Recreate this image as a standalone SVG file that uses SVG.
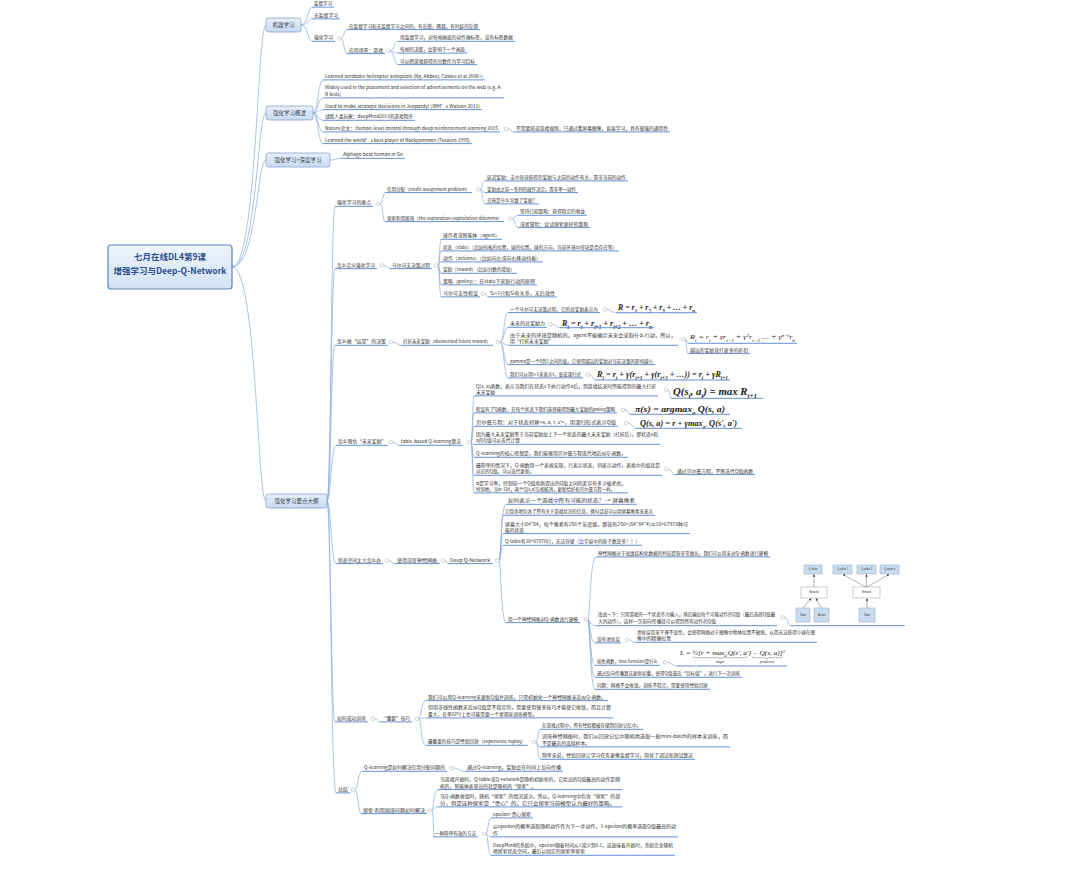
<svg xmlns="http://www.w3.org/2000/svg" width="1080" height="869" viewBox="0 0 1080 869">
<defs>
<linearGradient id="g1" x1="0" y1="0" x2="0" y2="1"><stop offset="0" stop-color="#e8f0f9"/><stop offset="1" stop-color="#c8daef"/></linearGradient>
<linearGradient id="g0" x1="0" y1="0" x2="0" y2="1"><stop offset="0" stop-color="#eef4fb"/><stop offset="1" stop-color="#d3e2f3"/></linearGradient>
<marker id="ar" viewBox="0 0 4 4" refX="3.6" refY="2" markerUnits="userSpaceOnUse" markerWidth="2.4" markerHeight="2.4" orient="auto"><path d="M0 0L4 2L0 4z" fill="#333"/></marker>
</defs>
<style>
.t{font-family:"Noto Sans CJK SC","Noto Sans",sans-serif;font-size:4.8px;fill:#2e2e2e}
.b{font-family:"Noto Sans CJK SC","Noto Sans",sans-serif;font-size:5.5px;fill:#2f3b4c;text-anchor:middle}
.r{font-family:"Noto Sans CJK SC","Noto Sans",sans-serif;font-size:8.5px;font-weight:bold;fill:#2a4f8c;text-anchor:middle}
.u{stroke:#6391d6;stroke-width:1;fill:none}
.c{stroke:#8fb0dc;stroke-width:0.75;fill:none}
.k{fill:#fff;stroke:#a8a8a8;stroke-width:0.5}
.L1{fill:url(#g1);stroke:#86a6d0;stroke-width:0.8}
.f{font-family:"Liberation Serif","DejaVu Serif",serif;font-style:italic;fill:#1a1a1a}
.fb{font-weight:bold}
.s{baseline-shift:sub;font-size:65%}
.p{baseline-shift:super;font-size:65%}
.ib{fill:#c9dcee;stroke:#8ea7c2;stroke-width:0.5}
.nb{fill:#fff;stroke:#9a9a9a;stroke-width:0.5}
.it{font-family:"Liberation Sans",Arial,sans-serif;font-size:2.6px;fill:#333;text-anchor:middle}
.a{stroke:#444;stroke-width:0.4;fill:none;marker-end:url(#ar)}
</style>
<rect width="1080" height="869" fill="#fff"/>

<g id="connectors">
<path class="c" d="M232 267C257 267 257 25 266 25M232 267C257 267 257 113 266 113M232 267C257 267 257 160 266 160M232 267C257 267 257 501 266 501"/>
<path class="c" d="M301 25C308 25 308 7.1 312 7.1M301 25C308 25 308 18.9 312 18.9M301 25C308 25 308 41.3 312 41.3"/>
<path class="c" d="M341 38.5C344 38.5 344 29.6 347 29.6M341 38.5C344 38.5 344 53.6 347 53.6"/>
<path class="c" d="M390 50.8C394 50.8 394 41.3 398 41.3M390 50.8C394 50.8 394 53.1 398 53.1M390 50.8C394 50.8 394 64.6 398 64.6"/>
<path class="c" d="M313 113C318 113 318 79.9 323 79.9M313 113C318 113 318 97.9 323 97.9M313 113C318 113 318 109.6 323 109.6M313 113C318 113 318 120.3 323 120.3M313 113C318 113 318 131.9 323 131.9M313 113C318 113 318 143.6 323 143.6"/>
<path class="c" d="M508 129C511 129 511 131.9 514 131.9"/>
<path class="c" d="M330 160C336 160 336 158.3 341 158.3"/>
<path class="c" d="M327 501C331 501 331 206.3 335 206.3M327 501C331 501 331 268.6 335 268.6M327 501C331 501 331 345.3 335 345.3M327 501C331 501 331 445.3 336 445.3M327 501C331 501 331 563.6 336 563.6M327 501C331 501 331 721.9 335 721.9M327 501C331 501 331 792.9 336 792.9"/>
<path class="c" d="M380 203.7C383 203.7 383 192.6 385 192.6M380 203.7C383 203.7 383 221.6 385 221.6"/>
<path class="c" d="M480 189.5C482.5 189.5 482.5 180.9 485 180.9M480 189.5C482.5 189.5 482.5 192.6 485 192.6M480 189.5C482.5 189.5 482.5 203.9 485 203.9"/>
<path class="c" d="M512 218.5C515 218.5 515 215.3 518 215.3M512 218.5C515 218.5 515 227.6 518 227.6"/>
<path class="c" d="M384 265.5C387 265.5 387 268.6 390 268.6"/>
<path class="c" d="M438 265.5C439.5 265.5 439.5 239.3 441 239.3M438 265.5C439.5 265.5 439.5 250.9 441 250.9M438 265.5C439.5 265.5 439.5 261.9 441 261.9M438 265.5C439.5 265.5 439.5 273.3 441 273.3M438 265.5C439.5 265.5 439.5 284.9 441 284.9M438 265.5C439.5 265.5 439.5 296.9 441 296.9"/>
<path class="c" d="M485 293.8C486.5 293.8 486.5 296.9 488 296.9"/>
<path class="c" d="M393 342.2C397 342.2 397 345.3 401 345.3"/>
<path class="c" d="M500 342.2C504 342.2 504 312.6 508 312.6M500 342.2C504 342.2 504 327.3 508 327.3M500 342.2C504 342.2 504 345.3 508 345.3M500 342.2C504 342.2 504 364.6 508 364.6M500 342.2C504 342.2 504 377.9 508 377.9"/>
<path class="c" d="M607 309.5C611 309.5 611 312.7 616 312.7M552 324.2C556 324.2 556 327.7 560 327.7M685 339C686.5 339 686.5 343.3 688 343.3M685 339C686.5 339 686.5 353.6 688 353.6M590 374.8C592.5 374.8 592.5 380 595 380"/>
<path class="c" d="M393 442.2C396 442.2 396 445.3 399 445.3"/>
<path class="c" d="M471 442.2C472.5 442.2 472.5 395.9 474 395.9M471 442.2C472.5 442.2 472.5 412.9 474 412.9M471 442.2C472.5 442.2 472.5 426.3 474 426.3M471 442.2C472.5 442.2 472.5 444.3 474 444.3M471 442.2C472.5 442.2 472.5 457.3 474 457.3M471 442.2C472.5 442.2 472.5 475.3 474 475.3M471 442.2C472.5 442.2 472.5 492.9 474 492.9"/>
<path class="c" d="M668 389.5C669.5 389.5 669.5 398.3 671 398.3M625 409.8C627.5 409.8 627.5 414.3 630 414.3M628 423.2C632 423.2 632 428.3 636 428.3M668 469C671.5 469 671.5 474.6 675 474.6"/>
<path class="c" d="M389 560.5C392 560.5 392 563.6 395 563.6M445 560.5C446.5 560.5 446.5 563.6 448 563.6"/>
<path class="c" d="M499 560.5C501 560.5 501 504.3 506 504.3M499 560.5C501 560.5 501 515.3 503 515.3M499 560.5C501 560.5 501 533.6 503 533.6M499 560.5C501 560.5 501 545.3 503 545.3M499 560.5C501 560.5 501 622.6 506 622.6"/>
<path class="c" d="M588 619.5C590 619.5 590 556.9 596 556.9M588 619.5C590 619.5 590 625.7 596 625.7M588 619.5C590 619.5 590 642.9 595 642.9M588 619.5C590 619.5 590 665.3 595 665.3M588 619.5C590 619.5 590 677.3 595 677.3M588 619.5C590 619.5 590 689.3 595 689.3"/>
<path class="c" d="M785 617.5C788 617.5 788 625.7 791 625.7M629 639.8C632 639.8 632 642.3 635 642.3M667 662.2C672 662.2 672 666 677 666"/>
<path class="c" d="M375 718.8C377.5 718.8 377.5 721.9 380 721.9"/>
<path class="c" d="M419 718.8C421 718.8 421 700.6 426 700.6M419 718.8C421 718.8 421 717.9 426 717.9M419 718.8C421 718.8 421 745.3 426 745.3"/>
<path class="c" d="M536 742.2C538 742.2 538 729.3 540 729.3M536 742.2C538 742.2 538 746.9 540 746.9M536 742.2C538 742.2 538 759.3 540 759.3"/>
<path class="c" d="M355 789.8C358 789.8 358 771.3 362 771.3M355 789.8C358 789.8 358 813.6 361 813.6M454 768.2C459 768.2 459 771.3 465 771.3"/>
<path class="c" d="M432 810.5C433.5 810.5 433.5 789.6 438 789.6M432 810.5C433.5 810.5 433.5 806.9 438 806.9M432 810.5C433.5 810.5 433.5 836.9 434 836.9"/>
<path class="c" d="M486 833.8C488 833.8 488 817.9 491 817.9M486 833.8C488 833.8 488 836.9 491 836.9M486 833.8C488 833.8 488 855.3 491 855.3"/>
</g>

<g id="root">
<rect x="108" y="245" width="124" height="44" rx="3" fill="url(#g0)" stroke="#5a84c0" stroke-width="1.2"/>
<text class="r" x="170" y="259.5">七月在线DL4第9课</text>
<text class="r" x="170" y="273.5">增强学习与Deep-Q-Network</text>
</g>

<g id="n-m1"><rect class="L1" x="266" y="18" width="35" height="14" rx="2.5"/><text class="b" x="283.5" y="27">机器学习</text></g>
<g id="n-b"><rect class="L1" x="266" y="106" width="47" height="14" rx="2.5"/><text class="b" x="289.5" y="115">强化学习概述</text></g>
<g id="n-c"><rect class="L1" x="266" y="153" width="64" height="14" rx="2.5"/><text class="b" x="298" y="162">强化学习+深度学习</text></g>
<g id="n-d"><rect class="L1" x="266" y="494" width="61" height="14" rx="2.5"/><text class="b" x="296.5" y="503">强化学习要点大纲</text></g>

<g id="n-a1"><text class="t" x="314" y="5.2" textLength="18" lengthAdjust="spacingAndGlyphs">监督学习</text><path class="u" d="M312 7.1H334"/></g>
<g id="n-a2"><text class="t" x="314" y="17" textLength="24" lengthAdjust="spacingAndGlyphs">无监督学习</text><path class="u" d="M312 18.9H340"/></g>
<g id="n-a3"><text class="t" x="314" y="39.4" textLength="19" lengthAdjust="spacingAndGlyphs">强化学习</text><path class="u" d="M312 41.3H335"/><circle class="k" cx="339" cy="38.5" r="1.8"/></g>
<g id="n-a31"><text class="t" x="349" y="27.7" textLength="129" lengthAdjust="spacingAndGlyphs">在监督学习和无监督学习之间的，有反馈，稀疏，有时延的反馈</text><path class="u" d="M347 29.6H480"/></g>
<g id="n-a32"><text class="t" x="349" y="51.7" textLength="34" lengthAdjust="spacingAndGlyphs">应用场景：游戏</text><path class="u" d="M347 53.6H385"/><circle class="k" cx="388" cy="50.8" r="1.8"/></g>
<g id="n-a321"><text class="t" x="400" y="39.4" textLength="113" lengthAdjust="spacingAndGlyphs">用监督学习，对每帧画面的动作做标签，没有标签数据</text><path class="u" d="M398 41.3H515"/></g>
<g id="n-a322"><text class="t" x="400" y="51.2" textLength="65" lengthAdjust="spacingAndGlyphs">每帧的决策，会影响下一个画面</text><path class="u" d="M398 53.1H467"/></g>
<g id="n-a323"><text class="t" x="400" y="62.7" textLength="75" lengthAdjust="spacingAndGlyphs">可以把游戏获得的分数作为学习目标</text><path class="u" d="M398 64.6H477"/></g>

<g id="n-b1"><text class="t" x="325" y="78" textLength="158" lengthAdjust="spacingAndGlyphs">Learned acrobatic helicopter autopilots (Ng, Abbeel, Coates et al 2006+)</text><path class="u" d="M323 79.9H485"/></g>
<g id="n-b2"><text class="t" x="325" y="88.7" textLength="177" lengthAdjust="spacingAndGlyphs">Widely used in the placement and selection of advertisements on the web (e.g. A-</text><text class="t" x="325" y="96" textLength="16" lengthAdjust="spacingAndGlyphs">B tests)</text><path class="u" d="M323 97.9H504"/></g>
<g id="n-b3"><text class="t" x="325" y="107.7" textLength="155" lengthAdjust="spacingAndGlyphs">Used to make strategic decisions in Jeopardy! (IBM’s Watson 2011)</text><path class="u" d="M323 109.6H482"/></g>
<g id="n-b4"><text class="t" x="325" y="118.4" textLength="88" lengthAdjust="spacingAndGlyphs">战胜人类玩家：deepMind2013的游戏程序</text><path class="u" d="M323 120.3H415"/></g>
<g id="n-b5"><text class="t" x="325" y="130" textLength="173" lengthAdjust="spacingAndGlyphs">Nature论文：Human-level control through deep reinforcement learning 2015</text><path class="u" d="M323 131.9H500"/><circle class="k" cx="506" cy="129" r="1.8"/></g>
<g id="n-b51"><text class="t" x="516" y="130" textLength="152" lengthAdjust="spacingAndGlyphs">不需要知道游戏规则，只通过看屏幕图像，直接学习，具有很强的通用性</text><path class="u" d="M514 131.9H670"/></g>
<g id="n-b6"><text class="t" x="325" y="141.7" textLength="145" lengthAdjust="spacingAndGlyphs">Learned the world’s best player of Backgammon (Tesauro 1995)</text><path class="u" d="M323 143.6H472"/></g>

<g id="n-c1"><text class="t" x="343" y="156.4" textLength="60" lengthAdjust="spacingAndGlyphs">Alphago beat human in Go</text><path class="u" d="M341 158.3H405"/></g>

<g id="n-d1"><text class="t" x="337" y="204.4" textLength="34" lengthAdjust="spacingAndGlyphs">强化学习的难点</text><path class="u" d="M335 206.3H373"/><circle class="k" cx="378" cy="203.7" r="1.8"/></g>
<g id="n-d11"><text class="t" x="387" y="190.7" textLength="83" lengthAdjust="spacingAndGlyphs">信用分配（credit assignment problem）</text><path class="u" d="M385 192.6H472"/><circle class="k" cx="478" cy="189.5" r="1.8"/></g>
<g id="n-d111"><text class="t" x="487" y="179" textLength="139" lengthAdjust="spacingAndGlyphs">延迟奖励：击中砖块获得的奖励与之前的动作有关，而非当前的动作</text><path class="u" d="M485 180.9H628"/></g>
<g id="n-d112"><text class="t" x="487" y="190.7" textLength="89" lengthAdjust="spacingAndGlyphs">奖励由之前一系列的操作决定，而非单一动作</text><path class="u" d="M485 192.6H578"/></g>
<g id="n-d113"><text class="t" x="487" y="202" textLength="50" lengthAdjust="spacingAndGlyphs">究竟是什么导致了奖励？</text><path class="u" d="M485 203.9H539"/></g>
<g id="n-d12"><text class="t" x="387" y="219.7" textLength="115" lengthAdjust="spacingAndGlyphs">探索利用困境（the exploration-exploitation dilemma）</text><path class="u" d="M385 221.6H504"/><circle class="k" cx="510" cy="218.5" r="1.8"/></g>
<g id="n-d121"><text class="t" x="520" y="213.4" textLength="65" lengthAdjust="spacingAndGlyphs">坚持已知策略：获得稳定的收益</text><path class="u" d="M518 215.3H587"/></g>
<g id="n-d122"><text class="t" x="520" y="225.7" textLength="68" lengthAdjust="spacingAndGlyphs">或者冒险：尝试探索更好的策略</text><path class="u" d="M518 227.6H590"/></g>

<g id="n-d2"><text class="t" x="337" y="266.7" textLength="38" lengthAdjust="spacingAndGlyphs">怎么定义强化学习</text><path class="u" d="M335 268.6H377"/><circle class="k" cx="382" cy="265.5" r="1.8"/></g>
<g id="n-d21"><text class="t" x="392" y="266.7" textLength="38" lengthAdjust="spacingAndGlyphs">马尔可夫决策过程</text><path class="u" d="M390 268.6H432"/><circle class="k" cx="436" cy="265.5" r="1.8"/></g>
<g id="n-d211"><text class="t" x="443" y="237.4" textLength="57" lengthAdjust="spacingAndGlyphs">操作者或智能体（agent）</text><path class="u" d="M441 239.3H502"/></g>
<g id="n-d212"><text class="t" x="443" y="249" textLength="174" lengthAdjust="spacingAndGlyphs">状态（state）（比如挡板的位置，球的位置，球的方向，当前环境中砖块是否存在等）</text><path class="u" d="M441 250.9H619"/></g>
<g id="n-d213"><text class="t" x="443" y="260" textLength="98" lengthAdjust="spacingAndGlyphs">动作（actions）（比如向左或向右移动挡板）</text><path class="u" d="M441 261.9H543"/></g>
<g id="n-d214"><text class="t" x="443" y="271.4" textLength="72" lengthAdjust="spacingAndGlyphs">奖励（reward）（比如分数的增加）</text><path class="u" d="M441 273.3H517"/></g>
<g id="n-d215"><text class="t" x="443" y="283" textLength="92" lengthAdjust="spacingAndGlyphs">策略（policy）：在state下采取行动的原则</text><path class="u" d="M441 284.9H537"/></g>
<g id="n-d216"><text class="t" x="443" y="295" textLength="35" lengthAdjust="spacingAndGlyphs">马尔可夫性假设</text><path class="u" d="M441 296.9H480"/><circle class="k" cx="483" cy="293.8" r="1.8"/></g>
<g id="n-d2161"><text class="t" x="490" y="295" textLength="65" lengthAdjust="spacingAndGlyphs">Si+1只和Si有关系，无后效性</text><path class="u" d="M488 296.9H557"/></g>

<g id="n-d3"><text class="t" x="337" y="343.4" textLength="49" lengthAdjust="spacingAndGlyphs">怎么做“远见”的决策</text><path class="u" d="M335 345.3H388"/><circle class="k" cx="391" cy="342.2" r="1.8"/></g>
<g id="n-d31"><text class="t" x="403" y="343.4" textLength="88" lengthAdjust="spacingAndGlyphs">打折未来奖励（discounted future reward）</text><path class="u" d="M401 345.3H493"/><circle class="k" cx="498" cy="342.2" r="1.8"/></g>
<g id="n-d311"><text class="t" x="510" y="310.7" textLength="88" lengthAdjust="spacingAndGlyphs">一个马尔可夫决策过程，它的总奖励表示为</text><path class="u" d="M508 312.6H600"/><circle class="k" cx="605" cy="309.5" r="1.8"/></g>
<g id="n-f1"><text class="f fb" x="618" y="310" font-size="8" textLength="77" lengthAdjust="spacingAndGlyphs">R = r<tspan class="s">1</tspan> + r<tspan class="s">2</tspan> + r<tspan class="s">3</tspan> + … + r<tspan class="s">n</tspan></text><path class="u" d="M616 312.7H697"/></g>
<g id="n-d312"><text class="t" x="510" y="325.4" textLength="35" lengthAdjust="spacingAndGlyphs">未来的总奖励为</text><path class="u" d="M508 327.3H547"/><circle class="k" cx="550" cy="324.2" r="1.8"/></g>
<g id="n-f2"><text class="f fb" x="562" y="325.5" font-size="8" textLength="90" lengthAdjust="spacingAndGlyphs">R<tspan class="s">t</tspan> = r<tspan class="s">t</tspan> + r<tspan class="s">t+1</tspan> + r<tspan class="s">t+2</tspan> + … + r<tspan class="s">n</tspan></text><path class="u" d="M560 327.7H654"/></g>
<g id="n-d313"><text class="t" x="510" y="337.4" textLength="166" lengthAdjust="spacingAndGlyphs">由于未来的环境是随机的，agent不能确定未来会采取什么行动，所以，</text><text class="t" x="510" y="343.4" textLength="43" lengthAdjust="spacingAndGlyphs">用“打折未来奖励”</text><path class="u" d="M508 345.3H678"/><circle class="k" cx="683" cy="339" r="1.8"/></g>
<g id="n-f3"><text class="f" x="690" y="339.3" font-size="7" textLength="105" lengthAdjust="spacingAndGlyphs">R<tspan class="s">t</tspan> = r<tspan class="s">t</tspan> + γr<tspan class="s">t+1</tspan> + γ<tspan class="p">2</tspan>r<tspan class="s">t+2</tspan> … + γ<tspan class="p">n−t</tspan>r<tspan class="s">n</tspan></text><path class="u" d="M688 343.3H797"/></g>
<g id="n-d3131"><text class="t" x="690" y="351.7" textLength="58" lengthAdjust="spacingAndGlyphs">越远的奖励就打更多的折扣</text><path class="u" d="M688 353.6H750"/></g>
<g id="n-d314"><text class="t" x="510" y="362.7" textLength="143" lengthAdjust="spacingAndGlyphs">gamma是一个0到1之间的值，它使得越远的奖励对当前决策的影响越小</text><path class="u" d="M508 364.6H655"/></g>
<g id="n-d315"><text class="t" x="510" y="376" textLength="71" lengthAdjust="spacingAndGlyphs">我们可以用t+1来表示t，变成递归式</text><path class="u" d="M508 377.9H583"/><circle class="k" cx="588" cy="374.8" r="1.8"/></g>
<g id="n-f5"><text class="f fb" x="597" y="376.6" font-size="8" textLength="131" lengthAdjust="spacingAndGlyphs">R<tspan class="s">t</tspan> = r<tspan class="s">t</tspan> + γ(r<tspan class="s">t+1</tspan> + γ(r<tspan class="s">t+2</tspan> + …)) = r<tspan class="s">t</tspan> + γR<tspan class="s">t+1</tspan></text><path class="u" d="M595 380H730"/></g>

<g id="n-d4"><text class="t" x="338" y="443.4" textLength="48" lengthAdjust="spacingAndGlyphs">怎么预估“未来奖励”</text><path class="u" d="M336 445.3H388"/><circle class="k" cx="391" cy="442.2" r="1.8"/></g>
<g id="n-d41"><text class="t" x="401" y="443.4" textLength="60" lengthAdjust="spacingAndGlyphs">table-based Q-learning算法</text><path class="u" d="M399 445.3H463"/><circle class="k" cx="469" cy="442.2" r="1.8"/></g>
<g id="n-d411"><text class="t" x="476" y="388.4" textLength="180" lengthAdjust="spacingAndGlyphs">Q(s, a)函数，表示当我们在状态s下执行动作a后，到游戏结束时所能得到的最大打折</text><text class="t" x="476" y="394" textLength="19" lengthAdjust="spacingAndGlyphs">未来奖励</text><path class="u" d="M474 395.9H658"/><circle class="k" cx="666" cy="389.5" r="1.8"/></g>
<g id="n-f6"><text class="f fb" x="673" y="394.5" font-size="9.5" textLength="84" lengthAdjust="spacingAndGlyphs">Q(s<tspan class="s">t</tspan>, a<tspan class="s">t</tspan>) = max R<tspan class="s">t+1</tspan></text><path class="u" d="M671 398.3H763"/></g>
<g id="n-d412"><text class="t" x="476" y="411" textLength="139" lengthAdjust="spacingAndGlyphs">假设有了Q函数，在每个状态下我们选择能得到最大奖励的policy策略</text><path class="u" d="M474 412.9H617"/><circle class="k" cx="623" cy="409.8" r="1.8"/></g>
<g id="n-f7"><text class="f fb" x="635" y="411.8" font-size="8.5" textLength="90" lengthAdjust="spacingAndGlyphs">π(s) = argmax<tspan class="s">a</tspan> Q(s, a)</text><path class="u" d="M630 414.3H730"/></g>
<g id="n-d413"><text class="t" x="476" y="424.4" textLength="140" lengthAdjust="spacingAndGlyphs">贝尔曼方程：对于状态转移&lt;s, a, r, s'&gt;，用递归形式表示Q值</text><path class="u" d="M474 426.3H618"/><circle class="k" cx="626" cy="423.2" r="1.8"/></g>
<g id="n-f8"><text class="f fb" x="640" y="425.8" font-size="8.5" textLength="97" lengthAdjust="spacingAndGlyphs">Q(s, a) = r + γmax<tspan class="s">a'</tspan> Q(s', a')</text><path class="u" d="M636 428.3H742"/></g>
<g id="n-d414"><text class="t" x="476" y="436.4" textLength="182" lengthAdjust="spacingAndGlyphs">因为最大未来奖励等于当前奖励加上下一个状态的最大未来奖励（打折后），即状态s和</text><text class="t" x="476" y="442.4" textLength="44" lengthAdjust="spacingAndGlyphs">a的Q值可以迭代计算</text><path class="u" d="M474 444.3H660"/></g>
<g id="n-d415"><text class="t" x="476" y="455.4" textLength="150" lengthAdjust="spacingAndGlyphs">Q-learning的核心思想是，我们能够用贝尔曼方程迭代地近似Q-函数。</text><path class="u" d="M474 457.3H628"/></g>
<g id="n-d416"><text class="t" x="476" y="467.4" textLength="184" lengthAdjust="spacingAndGlyphs">最简单的情况下，Q-函数用一个表格实现，行表示状态，列表示动作，表格中的值就是</text><text class="t" x="476" y="473.4" textLength="58" lengthAdjust="spacingAndGlyphs">对应的Q值，可以迭代更新。</text><path class="u" d="M474 475.3H662"/><circle class="k" cx="666" cy="469" r="1.8"/></g>
<g id="n-d4161"><text class="t" x="677" y="472.7" textLength="76" lengthAdjust="spacingAndGlyphs">通过贝尔曼方程，不断迭代Q值函数</text><path class="u" d="M675 474.6H755"/></g>
<g id="n-d417"><text class="t" x="476" y="485" textLength="150" lengthAdjust="spacingAndGlyphs">α是学习率，控制前一个Q值和新提出的Q值之间的差异有多少被考虑。</text><text class="t" x="476" y="491" textLength="139" lengthAdjust="spacingAndGlyphs">特别地，当α=1时，两个Q[s,a]互相抵消，更新恰好和贝尔曼方程一样。</text><path class="u" d="M474 492.9H628"/></g>

<g id="n-d5"><text class="t" x="338" y="561.7" textLength="43" lengthAdjust="spacingAndGlyphs">状态空间太大怎么办</text><path class="u" d="M336 563.6H383"/><circle class="k" cx="387" cy="560.5" r="1.8"/></g>
<g id="n-d51"><text class="t" x="397" y="561.7" textLength="40" lengthAdjust="spacingAndGlyphs">使用深度神经网络</text><path class="u" d="M395 563.6H440"/><circle class="k" cx="443" cy="560.5" r="1.8"/></g>
<g id="n-d511"><text class="t" x="450" y="561.7" textLength="40" lengthAdjust="spacingAndGlyphs">Deep Q-Network</text><path class="u" d="M448 563.6H493"/><circle class="k" cx="497" cy="560.5" r="1.8"/></g>
<g id="n-d5111"><text class="t" x="508" y="502.4" textLength="127" lengthAdjust="spacingAndGlyphs">如何表示一个游戏中所有可能的状态？--&gt; 屏幕像素</text><path class="u" d="M506 504.3H637"/></g>
<g id="n-d5112"><text class="t" x="505" y="513.4" textLength="148" lengthAdjust="spacingAndGlyphs">它隐含地包含了所有关于游戏状况的信息，换句话说可以用屏幕像素来表示</text><path class="u" d="M503 515.3H655"/></g>
<g id="n-d5113"><text class="t" x="505" y="525.7" textLength="183" lengthAdjust="spacingAndGlyphs">屏幕大小84*84，每个像素有256个灰度级，那就有256^(84*84*4)≈10^67970种可</text><text class="t" x="505" y="531.7" textLength="19" lengthAdjust="spacingAndGlyphs">能的状态</text><path class="u" d="M503 533.6H690"/></g>
<g id="n-d5114"><text class="t" x="505" y="543.4" textLength="135" lengthAdjust="spacingAndGlyphs">Q-table有10^67970行，无法存储（比宇宙中的原子数还多！！）</text><path class="u" d="M503 545.3H642"/></g>
<g id="n-d5115"><text class="t" x="508" y="620.7" textLength="70" lengthAdjust="spacingAndGlyphs">用一个神经网络对Q-函数进行建模</text><path class="u" d="M506 622.6H580"/><circle class="k" cx="586" cy="619.5" r="1.8"/></g>
<g id="n-d51151"><text class="t" x="598" y="555" textLength="170" lengthAdjust="spacingAndGlyphs">神经网络对于高维结构化数据的特征提取非常擅长，我们可以用来对Q-函数进行建模</text><path class="u" d="M596 556.9H770"/></g>
<g id="n-d51152"><text class="t" x="598" y="615.7" textLength="177" lengthAdjust="spacingAndGlyphs">改进一下：只用游戏的一个状态作为输入，然后输出每个可能动作的Q值（最后选择Q值最</text><text class="t" x="598" y="622.7" textLength="118" lengthAdjust="spacingAndGlyphs">大的动作），这样一次前向传播就可以得到所有动作的Q值</text><path class="u" d="M596 625.7H777"/><circle class="k" cx="783" cy="617.5" r="1.8"/></g>
<g id="n-img">
<path class="u" d="M791 625.7H905"/>
<rect class="ib" x="804" y="565" width="18" height="9"/><text class="it" x="813" y="570.4">Q-value</text>
<rect class="ib" x="833" y="565" width="19" height="9"/><text class="it" x="842.5" y="570.4">Q-value 1</text>
<rect class="ib" x="857" y="565" width="19" height="9"/><text class="it" x="866.5" y="570.4">Q-value 2</text>
<rect class="ib" x="880" y="565" width="19" height="9"/><text class="it" x="889.5" y="570.4">Q-value n</text>
<rect class="nb" x="801" y="587" width="26" height="11"/><text class="it" x="814" y="593.4">Network</text>
<rect class="nb" x="853" y="587" width="27" height="11"/><text class="it" x="866.5" y="593.4">Network</text>
<rect class="ib" x="796" y="608" width="14" height="14"/><text class="it" x="803" y="615.9">State</text>
<rect class="ib" x="814" y="608" width="15" height="14"/><text class="it" x="821.5" y="615.9">Action</text>
<rect class="ib" x="859" y="608" width="16" height="14"/><text class="it" x="867" y="615.9">State</text>
<path class="a" d="M814 587V574.5"/><path class="a" d="M803 608L811 598.5"/><path class="a" d="M821.5 608L816 598.5"/>
<path class="a" d="M866 587L843 574.5"/><path class="a" d="M866.5 587V574.5"/><path class="a" d="M867 587L889 574.5"/><path class="a" d="M867 608V598.5"/>
</g>
<g id="n-d51153"><text class="t" x="597" y="641" textLength="23" lengthAdjust="spacingAndGlyphs">没有池化层</text><path class="u" d="M595 642.9H621"/><circle class="k" cx="627" cy="639.8" r="1.8"/></g>
<g id="n-d511531"><text class="t" x="637" y="634" textLength="178" lengthAdjust="spacingAndGlyphs">池化层带来平移不变性，会使得网络对于图像中物体位置不敏感，从而无法获得小球在图</text><text class="t" x="637" y="640.4" textLength="34" lengthAdjust="spacingAndGlyphs">像中的精确位置</text><path class="u" d="M635 642.3H817"/></g>
<g id="n-d51154"><text class="t" x="597" y="663.4" textLength="61" lengthAdjust="spacingAndGlyphs">损失函数，loss function是什么</text><path class="u" d="M595 665.3H660"/><circle class="k" cx="665" cy="662.2" r="1.8"/></g>
<g id="n-f9"><text class="f" x="680" y="654.5" font-size="5.5" textLength="105" lengthAdjust="spacingAndGlyphs">L = ½[r + max<tspan class="s">a'</tspan>Q(s', a') − Q(s, a)]<tspan class="p">2</tspan></text>
<path d="M693 656.2Q693 657.7 695 657.7H718Q720 657.7 720 659.2Q720 657.7 722 657.7H745Q747 657.7 747 656.2M752 656.2Q752 657.7 754 657.7H765Q767 657.7 767 659.2Q767 657.7 769 657.7H780Q782 657.7 782 656.2" fill="none" stroke="#333" stroke-width="0.35"/>
<text class="f" x="720" y="663" font-size="3.4" text-anchor="middle" font-style="normal">target</text><text class="f" x="767" y="663" font-size="3.4" text-anchor="middle" font-style="normal">prediction</text>
<path class="u" d="M677 666H787"/></g>
<g id="n-d51155"><text class="t" x="597" y="675.4" textLength="143" lengthAdjust="spacingAndGlyphs">通过反向传播算法更新权重，使得Q值逼近“目标值”，进行下一次训练</text><path class="u" d="M595 677.3H742"/></g>
<g id="n-d51156"><text class="t" x="597" y="687.4" textLength="111" lengthAdjust="spacingAndGlyphs">问题：网络不会收敛，训练不稳定，需要使用经验回放</text><path class="u" d="M595 689.3H710"/></g>

<g id="n-d6"><text class="t" x="337" y="720" textLength="29" lengthAdjust="spacingAndGlyphs">如何成功训练</text><path class="u" d="M335 721.9H368"/><circle class="k" cx="373" cy="718.8" r="1.8"/></g>
<g id="n-d61"><text class="t" x="382" y="720" textLength="28" lengthAdjust="spacingAndGlyphs">“重要”技巧</text><path class="u" d="M380 721.9H412"/><circle class="k" cx="417" cy="718.8" r="1.8"/></g>
<g id="n-d611"><text class="t" x="428" y="698.7" textLength="178" lengthAdjust="spacingAndGlyphs">我们可以用Q-learning来更新Q值并训练，只需初始化一个神经网络来近似Q-函数。</text><path class="u" d="M426 700.6H608"/></g>
<g id="n-d612"><text class="t" x="428" y="709" textLength="183" lengthAdjust="spacingAndGlyphs">但用非线性函数来近似Q值是不稳定的，需要使用很多技巧才能使它收敛，而且计算</text><text class="t" x="428" y="716" textLength="109" lengthAdjust="spacingAndGlyphs">量大，在单GPU上也可能需要一个星期来训练模型。</text><path class="u" d="M426 717.9H613"/></g>
<g id="n-d613"><text class="t" x="428" y="743.4" textLength="98" lengthAdjust="spacingAndGlyphs">最重要的技巧是经验回放（experience replay）</text><path class="u" d="M426 745.3H528"/><circle class="k" cx="534" cy="742.2" r="1.8"/></g>
<g id="n-d6131"><text class="t" x="542" y="727.4" textLength="99" lengthAdjust="spacingAndGlyphs">在游戏过程中，所有经验都被存储到回放记忆中。</text><path class="u" d="M540 729.3H643"/></g>
<g id="n-d6132"><text class="t" x="542" y="738.4" textLength="186" lengthAdjust="spacingAndGlyphs">训练神经网络时，我们从回放记忆中随机地选取一批mini-batch的样本来训练，而</text><text class="t" x="542" y="745" textLength="48" lengthAdjust="spacingAndGlyphs">不是最近的连续样本。</text><path class="u" d="M540 746.9H730"/></g>
<g id="n-d6133"><text class="t" x="542" y="757.4" textLength="151" lengthAdjust="spacingAndGlyphs">简单来说，经验回放让学习任务更像监督学习，简化了调试和测试算法</text><path class="u" d="M540 759.3H695"/></g>

<g id="n-d7"><text class="t" x="338" y="791" textLength="10" lengthAdjust="spacingAndGlyphs">总结</text><path class="u" d="M336 792.9H350"/><circle class="k" cx="353" cy="789.8" r="1.8"/></g>
<g id="n-d71"><text class="t" x="364" y="769.4" textLength="81" lengthAdjust="spacingAndGlyphs">Q-learning是如何解决信用分配问题的</text><path class="u" d="M362 771.3H447"/><circle class="k" cx="452" cy="768.2" r="1.8"/></g>
<g id="n-d711"><text class="t" x="467" y="769.4" textLength="94" lengthAdjust="spacingAndGlyphs">通过Q-learning，奖励会在时间上反向传播</text><path class="u" d="M465 771.3H563"/></g>
<g id="n-d72"><text class="t" x="363" y="811.7" textLength="62" lengthAdjust="spacingAndGlyphs">探索-利用困境问题如何解决</text><path class="u" d="M361 813.6H427"/><circle class="k" cx="430" cy="810.5" r="1.8"/></g>
<g id="n-d721"><text class="t" x="440" y="781" textLength="180" lengthAdjust="spacingAndGlyphs">当游戏开始时，Q-table或Q-network是随机初始化的，它给出的Q值最高的动作是随</text><text class="t" x="440" y="787.7" textLength="96" lengthAdjust="spacingAndGlyphs">机的，智能体表现出的就是随机的“探索”。</text><path class="u" d="M438 789.6H622"/></g>
<g id="n-d722"><text class="t" x="440" y="798.4" textLength="180" lengthAdjust="spacingAndGlyphs">当Q-函数收敛时，随机“探索”的情况减少。所以，Q-learning中包含“探索”的部</text><text class="t" x="440" y="805" textLength="175" lengthAdjust="spacingAndGlyphs">分，但是这种探索是“贪心”的，它只会探索当前模型认为最好的策略。</text><path class="u" d="M438 806.9H622"/></g>
<g id="n-d723"><text class="t" x="435" y="835" textLength="41" lengthAdjust="spacingAndGlyphs">一种简单有效的方法</text><path class="u" d="M433 836.9H478"/><circle class="k" cx="484" cy="833.8" r="1.8"/></g>
<g id="n-d7231"><text class="t" x="493" y="816" textLength="38" lengthAdjust="spacingAndGlyphs">epsilon-贪心探索</text><path class="u" d="M491 817.9H533"/></g>
<g id="n-d7232"><text class="t" x="493" y="828.4" textLength="183" lengthAdjust="spacingAndGlyphs">以epsilon的概率选取随机动作作为下一步动作，1-epsilon的概率选取Q值最高的动</text><text class="t" x="493" y="835" textLength="5" lengthAdjust="spacingAndGlyphs">作</text><path class="u" d="M491 836.9H678"/></g>
<g id="n-d7233"><text class="t" x="493" y="846.7" textLength="180" lengthAdjust="spacingAndGlyphs">DeepMind的系统中，epsilon随着时间从1减少到0.1，这意味着开始时，系统完全随机</text><text class="t" x="493" y="853.4" textLength="92" lengthAdjust="spacingAndGlyphs">地探索状态空间，最后以固定的探索率探索</text><path class="u" d="M491 855.3H675"/></g>
</svg>
